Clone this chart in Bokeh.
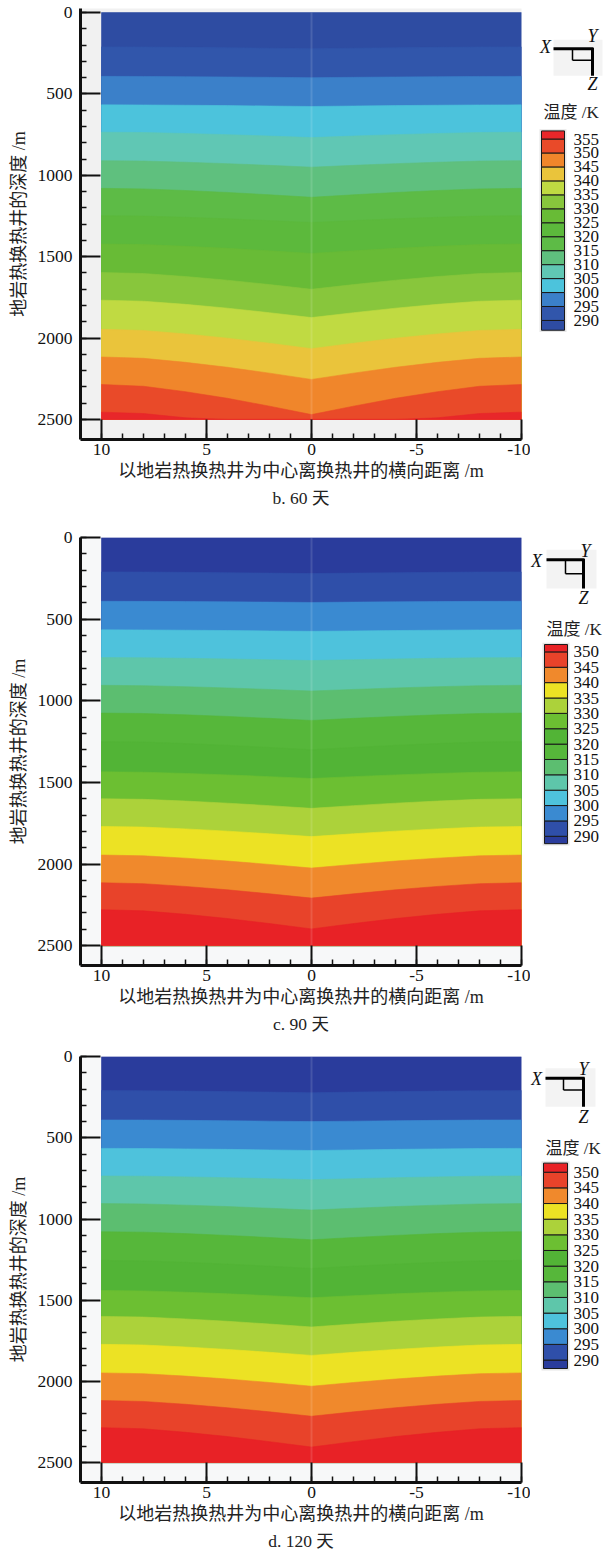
from bokeh.plotting import figure
from bokeh.layouts import column, row
from bokeh.models import Range1d, FixedTicker, Title
from bokeh.embed import file_html
from bokeh.resources import INLINE
from bokeh.core.properties import value

# ---------------- data ----------------
distance_ticks = [10, 5, 0, -5, -10]
distance_labels = ["10", "5", "0", "-5", "-10"]
distance_minor = list(range(-10, 11))
depth_ticks = [0, 500, 1000, 1500, 2000, 2500]
depth_minor = list(range(0, 2501, 100))
x_extent = [10, -10]          # lateral extent of the model (m)
depth_extent = [0, 2500]      # depth extent of the model (m)
well_x = 0

# isotherm shape across the section, mirrored about the well
profile_x = [10, 8, 6, 4, 2, 0]
profile_frac = [0.0, 0.06, 0.24, 0.46, 0.72, 1.0]

# panel b (60 days)
levels_b = [290, 295, 300, 305, 310, 315, 320, 325, 330, 335, 340, 345, 350, 355]
edge_b = [211, 392, 567, 735, 910, 1080, 1248, 1422, 1597, 1767, 1946, 2116, 2285, 2455]
center_b = [222, 400, 577, 768, 950, 1135, 1290, 1480, 1700, 1874, 2065, 2254, 2470, 2600]
colors_b = ["#2e4ca2", "#3156ab", "#3b80c9", "#4cc3dc", "#60c7b4", "#5fc07e", "#5dbb46",
            "#5cb93c", "#68bb36", "#88c63c", "#c0da42", "#eac43b", "#f0862b", "#e94a29", "#e8272a"]

# panel c (90 days)
levels_c = [290, 295, 300, 305, 310, 315, 320, 325, 330, 335, 340, 345, 350]
edge_c = [210, 390, 565, 735, 905, 1075, 1250, 1435, 1600, 1770, 1945, 2115, 2280]
center_c = [220, 397, 574, 753, 940, 1120, 1300, 1476, 1659, 1832, 2025, 2209, 2398]
colors_c = ["#2a3c9c", "#2f4fa9", "#3a8ad1", "#4ec2dc", "#5ec6aa", "#5cbe70", "#56b73a",
            "#52b436", "#6cbf32", "#acd23a", "#ece224", "#f0892c", "#e8432a", "#e82226"]

# panel d (120 days)
levels_d = [290, 295, 300, 305, 310, 315, 320, 325, 330, 335, 340, 345, 350]
edge_d = [209, 390, 565, 735, 905, 1078, 1255, 1440, 1600, 1772, 1948, 2118, 2285]
center_d = [222, 400, 578, 758, 945, 1128, 1305, 1485, 1665, 1840, 2030, 2215, 2405]
colors_d = ["#2a3c9c", "#2f4fa9", "#3a8ad1", "#4ec2dc", "#5ec6aa", "#5cbe70", "#56b73a",
            "#52b436", "#6cbf32", "#acd23a", "#ece224", "#f0892c", "#e8432a", "#e82226"]

x_title = "以地岩热换热井为中心离换热井的横向距离 /m"
y_title = "地岩热换热井的深度 /m"
cb_title = "温度 /K"
captions = ["b. 60 天", "c. 90 天", "d. 120 天"]

SERIF = "Liberation Serif"
MIXED = "Liberation Serif, Noto Sans CJK SC"

full_x = profile_x + [-v for v in reversed(profile_x[:-1])]
full_f = profile_frac + list(reversed(profile_frac[:-1]))


def make_main(levels, edges, centers, colors, caption, fig_h, top, frame_h, y_top, y_bot, bg):
    p = figure(width=530, height=fig_h, x_range=Range1d(11, -10), y_range=Range1d(y_bot, y_top),
               output_backend="svg", toolbar_location=None,
               min_border_left=80, min_border_right=9, min_border_top=top,
               min_border_bottom=fig_h - top - frame_h,
               background_fill_color=bg, border_fill_color="white", outline_line_color=None)
    p.grid.visible = False

    # base band (coolest), then each warmer band painted below its isotherm
    p.quad(left=[x_extent[0]], right=[x_extent[1]], top=[depth_extent[0]], bottom=[depth_extent[1]],
           fill_color=colors[0], line_color=colors[0], line_width=0.6)
    xs, ys, fc = [], [], []
    for k in range(len(levels)):
        e, c = edges[k], centers[k]
        yy = [min(e + f * (c - e), depth_extent[1]) for f in full_f]
        xs.append(full_x + [x_extent[1], x_extent[0]])
        ys.append(yy + [depth_extent[1], depth_extent[1]])
        fc.append(colors[k + 1])
    p.patches(xs=xs, ys=ys, fill_color=fc, line_color=fc, line_width=0.6)
    p.segment(x0=[well_x], y0=[depth_extent[0]], x1=[well_x], y1=[depth_extent[1]],
              line_color="white", line_alpha=0.13, line_width=2)

    for ax, ticks, minor in ((p.xaxis[0], distance_ticks, distance_minor),
                             (p.yaxis[0], depth_ticks, depth_minor)):
        ax.ticker = FixedTicker(ticks=ticks, minor_ticks=minor)
        ax.axis_line_width = 3
        ax.axis_line_color = "#111111"
        ax.major_tick_in = 20
        ax.major_tick_out = 0
        ax.major_tick_line_width = 2
        ax.major_tick_line_color = "#111111"
        ax.minor_tick_in = 6
        ax.minor_tick_out = 0
        ax.minor_tick_line_width = 1.5
        ax.minor_tick_line_color = "#111111"
        ax.major_label_text_font = SERIF
        ax.major_label_text_font_size = "17.5px"
        ax.major_label_text_color = "#111111"
        ax.axis_label_text_font = MIXED
        ax.axis_label_text_font_size = "18px"
        ax.axis_label_text_font_style = "normal"
        ax.axis_label_text_color = "#222222"
    p.xaxis.major_label_overrides = dict(zip(distance_ticks, distance_labels))
    p.xaxis.axis_label = x_title
    p.yaxis.axis_label = y_title
    p.xaxis.major_label_standoff = 4
    p.xaxis.axis_label_standoff = 3
    p.yaxis.major_label_standoff = 8
    p.yaxis.axis_label_standoff = 6
    p.yaxis.major_label_orientation = "horizontal"

    p.add_layout(Title(text=caption, align="center", text_font=MIXED, text_font_size="17.5px",
                       text_font_style="normal", text_color="#222222", standoff=4), "below")
    return p


def make_side(levels, colors, fig_h, t_bot, t_top, over, under, lay):
    s = figure(width=76, height=fig_h, x_range=Range1d(0, 76), y_range=Range1d(fig_h, 0),
               output_backend="svg", toolbar_location=None, min_border=0,
               x_axis_location=None, y_axis_location=None,
               outline_line_color=None, background_fill_color="white", border_fill_color="white")
    s.grid.visible = False
    s.extra_y_ranges = {"temp": Range1d(t_bot, t_top)}

    lo = [levels[0] - under] + levels
    hi = levels + [levels[-1] + over]
    n = len(lo)
    s.quad(left=[lay["bar"][0] - 2], right=[lay["bar"][1] + 2], bottom=[lo[0] - 0.6],
           top=[hi[-1] + 0.6], fill_color="#e6e6e6", line_color=None, y_range_name="temp")
    s.quad(left=[lay["bar"][0]] * n, right=[lay["bar"][1]] * n, bottom=lo, top=hi,
           fill_color=colors, line_color="#1a1a1a", line_width=1, y_range_name="temp")
    s.text(x=[lay["lab"]] * len(levels), y=levels, text=[str(v) for v in levels],
           text_font=value(SERIF), text_font_size="17px", text_color="#111111",
           text_baseline="middle", text_align="left", y_range_name="temp")
    s.text(x=[lay["bar"][0] + 2], y=[lay["title_y"]], text=[cb_title], text_font=value(MIXED),
           text_font_size="17px", text_color="#222222", text_baseline="middle", text_align="left")

    # orientation icon
    bx0, bx1, by0, by1 = lay["bg"]
    s.quad(left=[bx0], right=[bx1], top=[by0], bottom=[by1], fill_color="#f3f3f3",
           line_color=None)
    hx0, hx1, hy = lay["h"]
    vx, vy1 = lay["v"]
    ix, iy = lay["inner"]
    s.segment(x0=[hx0, vx], y0=[hy, hy - 1], x1=[vx + 1, vx], y1=[hy, vy1],
              line_color="black", line_width=3)
    s.segment(x0=[ix, ix], y0=[hy, iy], x1=[ix, vx], y1=[iy, iy],
              line_color="black", line_width=1.5)
    s.text(x=[lay["X"][0], lay["Y"][0], lay["Z"][0]], y=[lay["X"][1], lay["Y"][1], lay["Z"][1]],
           text=["X", "Y", "Z"], text_font=value(SERIF), text_font_style="italic",
           text_font_size="18px", text_color="#111111", text_align="center",
           text_baseline="middle")
    return s


lay_b = dict(bar=(11, 34), lab=43, title_y=127, bg=(23, 72, 38, 82), h=(23, 62, 49),
             v=(62, 82), inner=(42, 63), X=(15, 47), Y=(62, 33), Z=(62, 92))
lay_c = dict(bar=(14, 37), lab=43, title_y=112, bg=(16, 66, 15, 62), h=(16, 53, 27),
             v=(53, 62), inner=(35, 44), X=(6, 28), Y=(55, 17), Z=(53, 73))
lay_d = dict(bar=(13, 37), lab=43, title_y=110, bg=(15, 65, 14, 60), h=(15, 53, 26),
             v=(53, 60), inner=(33, 40), X=(6, 27), Y=(53, 15), Z=(53, 72))

pb = make_main(levels_b, edge_b, center_b, colors_b, captions[0], 525, 8, 431, -25, 2623, "#f1f1f1")
pc = make_main(levels_c, edge_c, center_c, colors_c, captions[1], 520, 12, 428, -1, 2622, "#f7f8f9")
pd = make_main(levels_d, edge_d, center_d, colors_d, captions[2], 508, 11, 426, -1, 2623, "#f7f8f9")

sb = make_side(levels_b, colors_b, 525, 247.35, 401.76, 2.9, 3.5, lay_b)
sc = make_side(levels_c, colors_c, 520, 247.95, 387.23, 2.4, 2.4, lay_c)
sd = make_side(levels_d, colors_d, 508, 250.89, 386.96, 2.9, 2.7, lay_d)

layout = column(row(pb, sb), row(pc, sc), row(pd, sd))
open("out.html", "w").write(file_html(layout, INLINE))
